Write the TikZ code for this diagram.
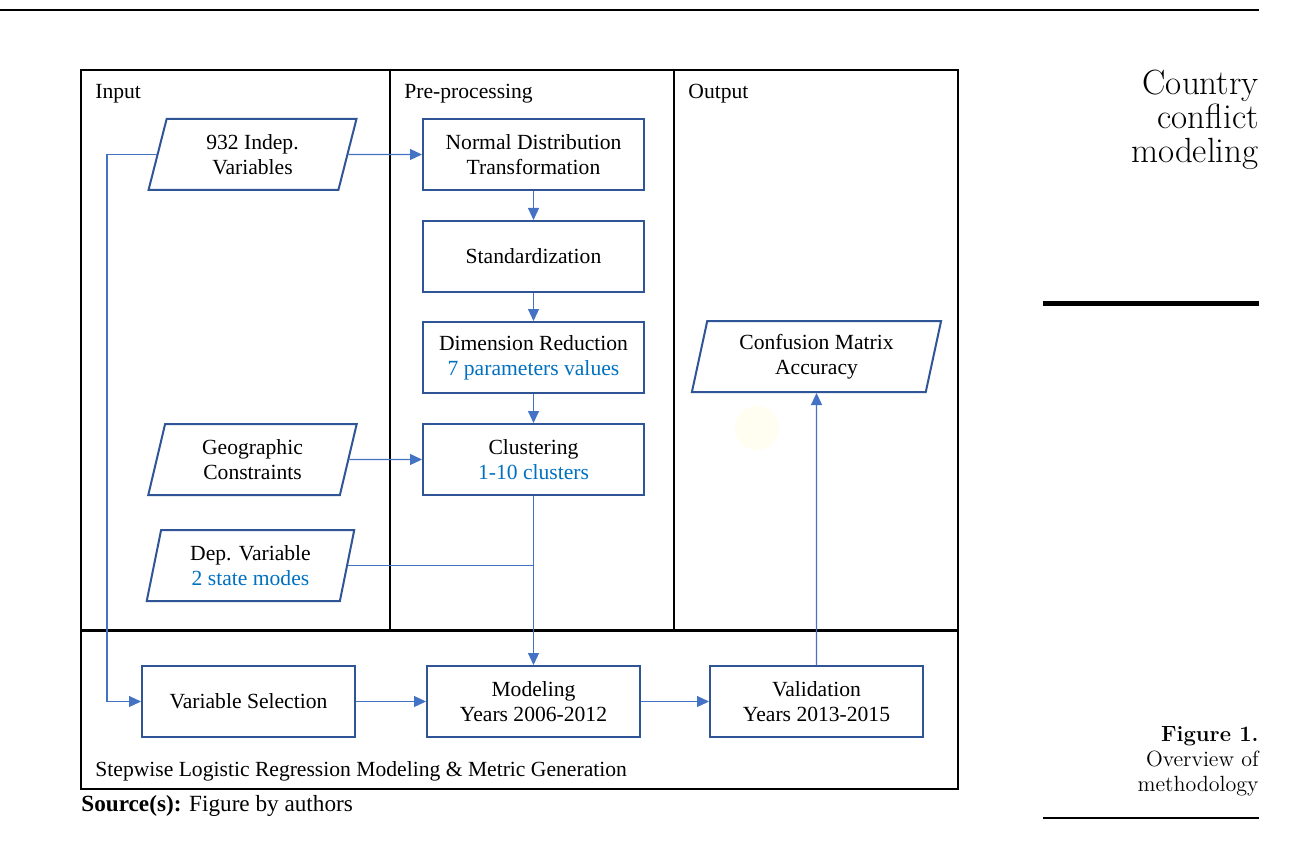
\documentclass[tikz,border=0pt]{standalone}
\usepackage{fontspec}
\usepackage{xcolor}
\usepackage{tikz}
\usetikzlibrary{shapes.geometric, arrows.meta, positioning}
\newfontfamily\figfont{Liberation Serif}
\definecolor{boxcolor}{RGB}{47,85,151}
\definecolor{linkcolor}{RGB}{68,114,196}
\definecolor{notecolor}{RGB}{0,112,192}

\begin{document}
\begin{tikzpicture}[
    x=0.5pt, y=-0.5pt,
    font=\figfont\fontsize{10.8}{12.6}\selectfont,
    proc/.style={draw=boxcolor, line width=1pt, minimum width=110.5pt, minimum height=35.5pt, inner sep=0pt, align=center},
    data/.style={trapezium, trapezium left angle=76.5, trapezium right angle=103.5, trapezium stretches=true, draw=boxcolor, line width=1pt, minimum width=104.5pt, minimum height=35.5pt, inner sep=0pt, align=center},
    frame/.style={draw=black, line width=1pt},
    label/.style={anchor=west, inner sep=0pt},
    arrow/.style={-{Triangle[length=6pt, width=5.5pt]}, draw=linkcolor, line width=0.6pt},
    link/.style={draw=linkcolor, line width=0.6pt}
]
    \useasboundingbox (0,0) rectangle (1294,850);

    % page rules and side notes
    \draw[line width=1pt] (0,10) -- (1259,10);
    \draw[line width=2.5pt] (1043,303) -- (1259,303);
    \draw[line width=1pt] (1043,818) -- (1259,818);
    \node[anchor=east, align=right, inner sep=0pt, font=\fontsize{17.5}{17}\selectfont] (title) at (1259,120) {Country\\conflict\\modeling};
    \node[anchor=east, align=right, inner sep=0pt, font=\fontsize{11}{12.5}\selectfont] (caption) at (1259,761) {\textbf{Figure 1.}\\Overview of\\methodology};

    % frames
    \draw[frame] (81,70) rectangle (390,630);
    \draw[frame] (390,70) rectangle (674,630);
    \draw[frame] (674,70) rectangle (958,630);
    \draw[frame] (81,630) rectangle (958,789);
    \draw[line width=1.5pt] (81,630) -- (958,630);
    \node[label] (lin) at (95,94) {Input};
    \node[label] (lpre) at (404,94) {Pre-processing};
    \node[label] (lout) at (688,94) {Output};
    \node[label] (lstep) at (95,771) {Stepwise Logistic Regression Modeling \& Metric Generation};
    \node[label, font=\figfont\fontsize{11.6}{13}\selectfont] (lsrc) at (81,806) {\textbf{Source(s):} Figure by authors};

    \fill[yellow!6] (757,428) circle (11pt);

    % input
    \node[data] (indep) at (252.5,154.5) {932 Indep.\\Variables};
    \node[data] (geo) at (252.5,459.5) {Geographic\\Constraints};
    \node[data] (dep) at (250.5,565.5) {Dep. Variable\\\textcolor{notecolor}{2 state modes}};

    % pre-processing
    \node[proc] (normal) at (533.5,154.5) {Normal Distribution\\Transformation};
    \node[proc] (std) at (533.5,256.5) {Standardization};
    \node[proc] (dimred) at (533.5,357.5) {Dimension Reduction\\\textcolor{notecolor}{7 parameters values}};
    \node[proc] (clus) at (533.5,459.5) {Clustering\\\textcolor{notecolor}{1-10 clusters}};

    % output
    \node[data, minimum width=125.5pt] (conf) at (816.5,356.5) {Confusion Matrix\\Accuracy};

    % modeling
    \node[proc, minimum width=106.5pt] (varsel) at (248.5,701.5) {Variable Selection};
    \node[proc, minimum width=106.5pt] (model) at (533.5,701.5) {Modeling\\Years 2006-2012};
    \node[proc, minimum width=106.5pt] (valid) at (816.5,701.5) {Validation\\Years 2013-2015};

    \coordinate (loop) at (107,701.5);

    \draw[arrow] (indep.east) -- (normal.west);
    \draw[arrow] (normal) -- (std);
    \draw[arrow] (std) -- (dimred);
    \draw[arrow] (dimred) -- (clus);
    \draw[arrow] (geo.east) -- (clus.west);
    \draw[link] (dep.east) -- (dep.east -| clus.south);
    \draw[arrow] (clus) -- (model);
    \draw[arrow] (indep.west) -| (loop) -- (varsel.west);
    \draw[arrow] (varsel) -- (model);
    \draw[arrow] (model) -- (valid);
    \draw[arrow] (valid) -- (conf.south);
\end{tikzpicture}
\end{document}
